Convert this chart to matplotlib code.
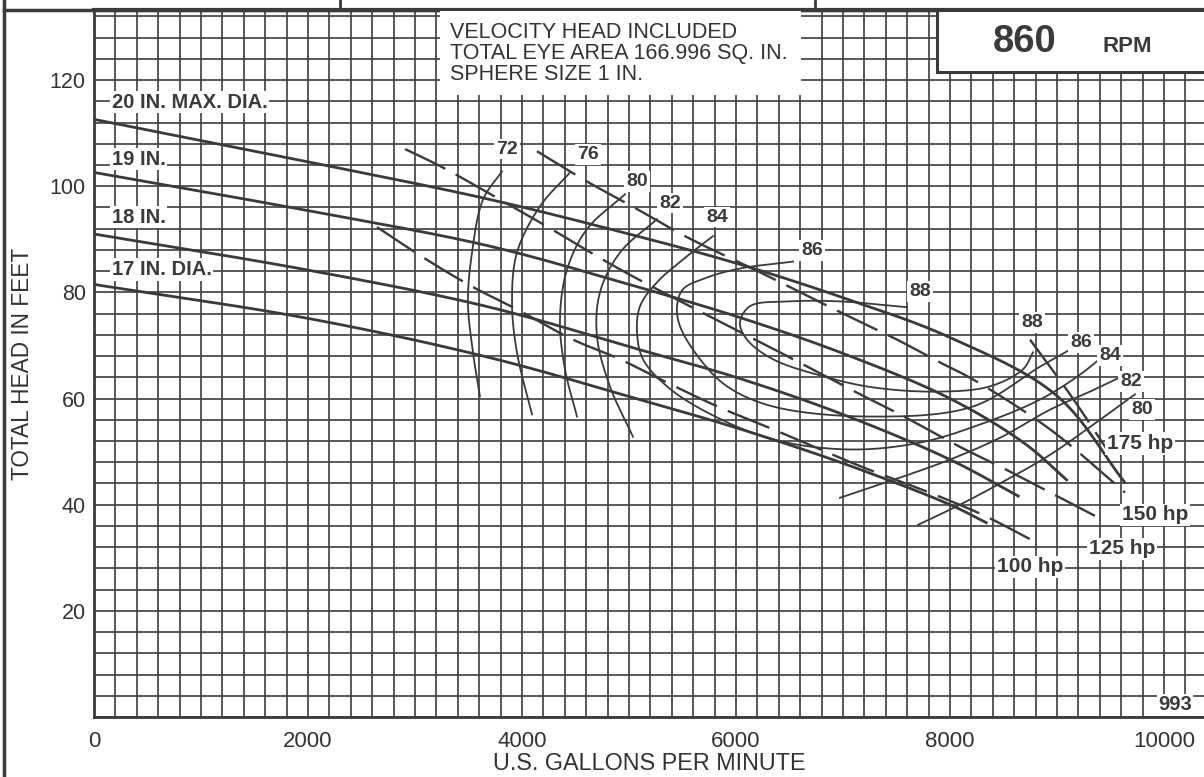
import matplotlib
matplotlib.use("Agg")
import matplotlib.pyplot as plt
import numpy as np
from matplotlib.patches import Rectangle
from matplotlib.lines import Line2D

plt.rcParams['font.family'] = ['Liberation Sans', 'DejaVu Sans']

# ---------------- data ----------------
# head-capacity curves (GPM, ft)
q_20 = [0, 2000, 3700, 5000, 6000, 7000, 8000, 9000, 9640]
h_20 = [112.6, 104.6, 97.5, 91.0, 85.5, 79.0, 71.5, 60.5, 44.0]
q_19 = [0, 2000, 3700, 5000, 6000, 7000, 8000, 8700, 9100]
h_19 = [102.6, 95.4, 88.7, 81.5, 75.5, 68.5, 60.0, 51.5, 44.5]
q_18 = [0, 2000, 3700, 5100, 6000, 7000, 8000, 8650]
h_18 = [91.0, 84.2, 77.2, 69.2, 64.0, 57.0, 48.5, 41.5]
q_17 = [0, 2000, 3700, 5100, 6000, 7000, 8000, 8350]
h_17 = [81.5, 75.1, 67.7, 59.8, 54.5, 47.8, 40.0, 36.5]
dia_labels = ["20 IN. MAX. DIA.", "19 IN.", "18 IN.", "17 IN. DIA."]
dia_label_h = [115.8, 105.1, 94.2, 84.3]

# efficiency curves (%)
q_e72 = [3813, 3636, 3533, 3495, 3542, 3607]
h_e72 = [102.8, 97.5, 87.5, 78.1, 68.7, 60.4]
q_e76 = [4449, 4168, 3953, 3907, 3953, 4093]
h_e76 = [102.6, 96.2, 87.5, 78.1, 68.7, 57.0]
q_e80 = [4963, 4607, 4421, 4355, 4402, 4514]
h_e80 = [98.5, 91.9, 84.3, 74.9, 65.5, 56.6]
q_e80r = [7701, 8093, 8467, 8935, 9402, 9729]
h_e80r = [36.2, 40.0, 44.0, 49.4, 56.0, 60.8]
q_e82 = [5262, 4916, 4729, 4701, 4822, 5037]
h_e82 = [93.8, 87.5, 80.0, 71.7, 62.3, 52.8]
q_e82r = [6972, 7533, 8000, 8467, 8935, 9308, 9589]
h_e82r = [41.3, 45.1, 48.5, 52.6, 57.9, 61.3, 64.0]
q_e84 = [5785, 5542, 5262, 5103, 5075, 5131, 5355, 5729, 6346, 7065, 7720, 8280, 8841, 9215, 9449]
h_e84 = [90.6, 86.8, 81.9, 77.4, 72.5, 67.4, 62.3, 57.4, 52.3, 50.4, 51.7, 55.1, 59.8, 64.5, 68.3]
q_e86 = [6533, 6037, 5729, 5505, 5449, 5477, 5664, 5916, 6346, 7280, 8215, 8841, 9121]
h_e86 = [85.8, 84.5, 82.8, 80.6, 77.4, 73.6, 67.4, 62.3, 58.5, 56.6, 58.5, 66.0, 69.2]
q_e88 = [7598, 6972, 6505, 6131, 6037, 6103, 6346, 6813, 7280, 7907, 8374, 8682, 8776]
h_e88 = [77.2, 78.3, 78.3, 77.4, 74.3, 71.1, 67.4, 64.2, 62.1, 61.3, 62.3, 65.5, 68.7]
eff_top_labels = ["72", "76", "80", "82", "84", "86", "88"]
eff_top_q = [3860, 4617, 5075, 5383, 5822, 6710, 7720]
eff_top_h = [107.0, 106.0, 100.9, 96.8, 94.2, 87.9, 80.2]
eff_right_labels = ["88", "86", "84", "82", "80"]
eff_right_q = [8766, 9224, 9495, 9692, 9794]
eff_right_h = [74.3, 70.6, 68.1, 63.2, 57.9]

# horsepower lines
q_hp100 = [2645, 3075, 3533, 3953, 4477, 4916, 5355, 5850, 6346, 7131, 7907, 8346, 8841]
h_hp100 = [92.3, 86.6, 81.1, 76.8, 71.1, 67.4, 63.0, 58.3, 54.2, 47.5, 41.5, 37.7, 32.5]
q_hp125 = [2907, 3234, 3794, 4327, 4701, 5037, 5664, 6411, 7131, 7533, 8093, 8467, 8935, 9421]
h_hp125 = [107.0, 103.8, 97.5, 91.3, 86.8, 83.0, 76.4, 68.7, 61.1, 57.0, 50.9, 47.2, 42.3, 37.2]
q_hp150 = [4140, 4607, 5075, 5542, 6224, 6879, 7505, 7907, 8215, 8935, 9636]
h_hp150 = [106.6, 100.9, 95.7, 90.4, 83.8, 77.2, 71.1, 66.8, 63.6, 54.2, 42.3]
q_hp175 = [8748, 9121, 9467]
h_hp175 = [71.1, 60.8, 50.4]
hp_labels = ["175 hp", "150 hp", "125 hp", "100 hp"]
hp_label_q = [9776, 9916, 9607, 8748]
hp_label_h = [51.5, 38.1, 31.7, 28.3]

x_ticks = [0, 2000, 4000, 6000, 8000, 10000]
y_ticks = [20, 40, 60, 80, 100, 120]

# ---------------- helpers ----------------
SX, SY = 0.107, 5.3   # display aspect used only to make the smoothing even


def smooth(q, h, n=24):
    """Centripetal Catmull-Rom curve through the read points."""
    pts = np.column_stack([np.asarray(q, float) * SX, np.asarray(h, float) * SY])
    if len(pts) < 3:
        return q, h
    P = np.vstack([2 * pts[0] - pts[1], pts, 2 * pts[-1] - pts[-2]])
    out = []
    for i in range(1, len(P) - 2):
        p0, p1, p2, p3 = P[i - 1], P[i], P[i + 1], P[i + 2]
        t0 = 0.0
        t1 = t0 + np.linalg.norm(p1 - p0) ** 0.5 + 1e-9
        t2 = t1 + np.linalg.norm(p2 - p1) ** 0.5 + 1e-9
        t3 = t2 + np.linalg.norm(p3 - p2) ** 0.5 + 1e-9
        t = np.linspace(t1, t2, n)[:, None]
        A1 = (t1 - t) / (t1 - t0) * p0 + (t - t0) / (t1 - t0) * p1
        A2 = (t2 - t) / (t2 - t1) * p1 + (t - t1) / (t2 - t1) * p2
        A3 = (t3 - t) / (t3 - t2) * p2 + (t - t2) / (t3 - t2) * p3
        B1 = (t2 - t) / (t2 - t0) * A1 + (t - t0) / (t2 - t0) * A2
        B2 = (t3 - t) / (t3 - t1) * A2 + (t - t1) / (t3 - t1) * A3
        C = (t2 - t) / (t2 - t1) * B1 + (t - t1) / (t2 - t1) * B2
        out.append(C if i == 1 else C[1:])
    C = np.vstack(out)
    return C[:, 0] / SX, C[:, 1] / SY


# ---------------- figure ----------------
W, H = 1204, 777
fig = plt.figure(figsize=(W / 100, H / 100), dpi=100)
fig.patch.set_facecolor('white')


def fx(px):
    return px / W


def fy(py):
    return 1 - py / H


ax = fig.add_axes([fx(94), fy(717), fx(1204) - fx(94), fy(10) - fy(717)])
ax.set_xlim(0, 10374)
ax.set_ylim(0, 133.2)

ink = '#3a3a3a'
grid_c = '#454545'
txt_c = '#333333'

# grid
ax.set_xticks(x_ticks)
ax.set_yticks(y_ticks)
ax.set_xticks(range(0, 10400, 200), minor=True)
ax.set_yticks(range(0, 134, 4), minor=True)
ax.grid(True, which='both', color=grid_c, lw=1.25)
ax.tick_params(which='both', length=0)
ax.tick_params(axis='both', labelcolor=txt_c)
ax.tick_params(axis='x', labelsize=16, pad=10)
ax.tick_params(axis='y', labelsize=15.5, pad=6)
for s in ['left', 'bottom']:
    ax.spines[s].set_linewidth(2.0)
    ax.spines[s].set_color(ink)
ax.spines['right'].set_visible(False)
ax.spines['top'].set_linewidth(3.0)
ax.spines['top'].set_color(ink)
ax.set_axisbelow(True)

ax.set_xlabel("U.S. GALLONS PER MINUTE", fontsize=16.8, color=txt_c, labelpad=0)
ax.set_ylabel("TOTAL HEAD IN FEET", fontsize=16.3, color=txt_c, labelpad=11)

# head curves
for q, h in [(q_20, h_20), (q_19, h_19), (q_18, h_18), (q_17, h_17)]:
    xs, ys = smooth(q, h)
    ax.plot(xs, ys, color=ink, lw=2.0, solid_capstyle='butt', zorder=3)

# efficiency curves
for q, h in [(q_e72, h_e72), (q_e76, h_e76), (q_e80, h_e80), (q_e80r, h_e80r),
             (q_e82, h_e82), (q_e82r, h_e82r), (q_e84, h_e84), (q_e86, h_e86),
             (q_e88, h_e88)]:
    xs, ys = smooth(q, h)
    ax.plot(xs, ys, color=ink, lw=1.3, zorder=3)

# hp lines
for q, h in [(q_hp100, h_hp100), (q_hp125, h_hp125), (q_hp150, h_hp150), (q_hp175, h_hp175)]:
    xs, ys = smooth(q, h)
    ax.plot(xs, ys, color=ink, lw=1.7, dashes=(19, 5), zorder=3)

box = dict(facecolor='white', edgecolor='none', pad=1.2)
for lab, hh in zip(dia_labels, dia_label_h):
    ax.text(168, hh, lab, fontsize=14.5, fontweight='bold', color=ink,
            ha='left', va='center', bbox=box, zorder=5)

for lab, q, h in zip(eff_top_labels, eff_top_q, eff_top_h):
    ax.text(q, h, lab, fontsize=14, fontweight='bold', color=ink,
            ha='center', va='center', bbox=box, zorder=5)
for lab, q, h in zip(eff_right_labels, eff_right_q, eff_right_h):
    ax.text(q, h, lab, fontsize=14, fontweight='bold', color=ink,
            ha='center', va='center', bbox=box, zorder=5)
for lab, q, h in zip(hp_labels, hp_label_q, hp_label_h):
    ax.text(q, h, lab, fontsize=15, fontweight='bold', color=ink,
            ha='center', va='center', bbox=box, zorder=5)

ax.text(10103, 2.3, "993", fontsize=14.5, fontweight='bold', color=ink,
        ha='center', va='center', bbox=box, zorder=5)

# note box (velocity head)
fig.add_artist(Rectangle((fx(440), fy(95)), fx(801) - fx(440), fy(11) - fy(95),
                         transform=fig.transFigure, facecolor='white',
                         edgecolor='none', zorder=4))
notes = ["VELOCITY HEAD INCLUDED", "TOTAL EYE AREA 166.996 SQ. IN.", "SPHERE SIZE 1 IN."]
for i, t in enumerate(notes):
    fig.text(fx(450), fy(33 + 21 * i), t, fontsize=15.5, color=txt_c,
             ha='left', va='center', zorder=6)

# RPM box
fig.add_artist(Rectangle((fx(937), fy(72)), fx(1215) - fx(937), fy(10) - fy(72),
                         transform=fig.transFigure, facecolor='white',
                         edgecolor=ink, lw=2.2, zorder=4))
fig.text(fx(1025), fy(42), "860", fontsize=27.5, fontweight='bold', color=ink,
         ha='center', va='center', zorder=6)
fig.text(fx(1127), fy(47), "RPM", fontsize=16, fontweight='bold', color=ink,
         ha='center', va='center', zorder=6)

# page frame
fig.add_artist(Line2D([fx(4), fx(4)], [0, 1], transform=fig.transFigure, color=ink, lw=2.5))
fig.add_artist(Line2D([fx(4), 1], [fy(10), fy(10)], transform=fig.transFigure, color=ink, lw=2.5))
for xp in [340, 815]:
    fig.add_artist(Line2D([fx(xp), fx(xp)], [fy(0), fy(10)], transform=fig.transFigure, color=ink, lw=2))

fig.savefig("out.png", dpi=100, facecolor='white')
